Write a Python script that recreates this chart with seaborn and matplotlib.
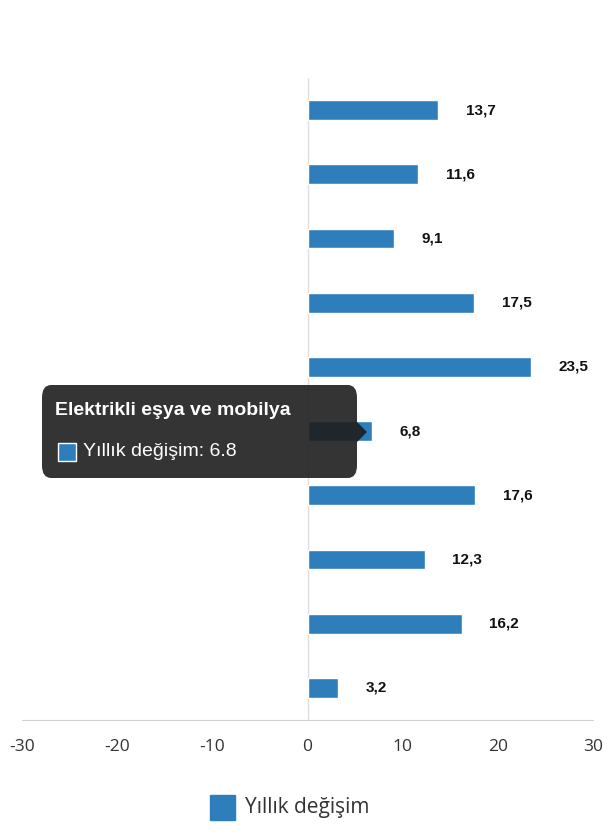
import matplotlib
matplotlib.use("Agg")
import matplotlib.pyplot as plt
import seaborn as sns
import pandas as pd
from matplotlib.patches import FancyBboxPatch, Rectangle, Polygon

categories = ["K1", "K2", "K3", "K4", "K5", "Elektrikli eşya ve mobilya", "K7", "K8", "K9", "K10"]
values = [13.7, 11.6, 9.1, 17.5, 23.5, 6.8, 17.6, 12.3, 16.2, 3.2]
ticks = [-30, -20, -10, 0, 10, 20, 30]
series_name = "Yıllık değişim"
color = "#2f7ebc"

df = pd.DataFrame({"cat": categories, "val": values})
sns.set_style("white")
plt.rcParams['font.family'] = ['Open Sans', 'DejaVu Sans']

fig = plt.figure(figsize=(6.1, 8.4), dpi=100)
ax = fig.add_axes([22/610, 1-720/840, (593-22)/610, (720-78)/840])
sns.barplot(data=df, y="cat", x="val", color=color, width=0.31, ax=ax, saturation=1)
ax.set_xlim(-30, 30)
ax.set_ylim(9.5, -0.5)
ax.set_xticks(ticks)
ax.set_xticklabels([str(t) for t in ticks], fontsize=12.5, color="#333333")
ax.set_yticks([])
ax.set_xlabel(""); ax.set_ylabel("")
for s in ["top", "right", "left"]:
    ax.spines[s].set_visible(False)
ax.spines["bottom"].set_color("#d0d0d0")
ax.tick_params(axis="x", length=0, pad=14)
ax.axvline(0, color="#e0e0e0", lw=1, zorder=0)
for i, v in enumerate(values):
    ax.annotate(f"{v:.1f}".replace(".", ","), (v, i), xytext=(20, 0), textcoords="offset points",
                va="center", ha="left", fontsize=11, fontweight="bold",
                family=["Liberation Sans"], color="#111111")

# legend
fig.patches.append(Rectangle((210/610, 1-820/840), 25/610, 25/840, transform=fig.transFigure, color=color))
fig.text(245/610, 1-808/840, series_name, fontsize=15, va="center", color="#333333")

# tooltip
fig.patches.append(FancyBboxPatch((42/610, 1-478/840), 315/610, 93/840, boxstyle="round,pad=0,rounding_size=0.015",
                                  transform=fig.transFigure, facecolor="#1e1e1e", alpha=0.9, edgecolor="none", zorder=5))
fig.patches.append(Polygon([(357/610, 1-422/840), (367/610, 1-432/840), (357/610, 1-442/840)],
                           closed=True, transform=fig.transFigure, facecolor="#1e1e1e", alpha=0.9, edgecolor="none", zorder=5))
fig.text(55/610, 1-410/840, categories[5], fontsize=14, fontweight="bold", color="white",
         va="center", family=["Liberation Sans"], zorder=6)
fig.patches.append(Rectangle((58/610, 1-461/840), 18/610, 18/840, transform=fig.transFigure,
                             facecolor=color, edgecolor="white", lw=1, zorder=6))
fig.text(83/610, 1-452/840, f"{series_name}: {values[5]}", fontsize=14, color="white",
         va="center", family=["Liberation Sans"], zorder=6)

fig.savefig("out.png", dpi=100)
